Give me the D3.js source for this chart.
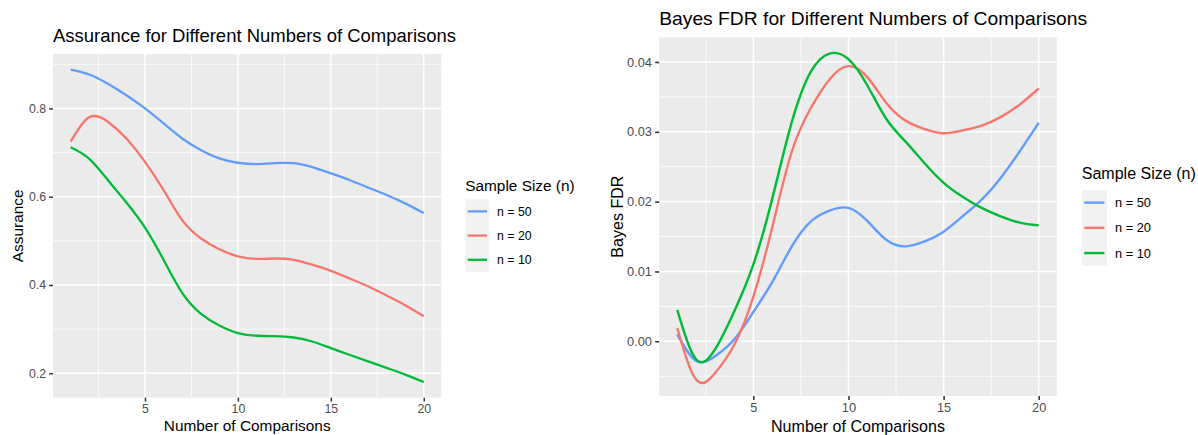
<!DOCTYPE html>
<html>
<head>
<meta charset="utf-8">
<script src="https://cdn.jsdelivr.net/npm/d3@7"></script>
<style>
  html, body { margin: 0; padding: 0; background: #ffffff; }
  svg { display: block; }
  text { font-family: "Liberation Sans", Arial, Helvetica, sans-serif; }
</style>
</head>
<body>
<svg id="chart" width="1198" height="435"></svg>
<script>
// Number of comparisons (x axis, shared by both panels)
const comparisons = [1, 2, 3, 4, 5, 6, 7, 8, 9, 10, 11, 12, 13, 14, 15, 16, 17, 18, 19, 20];

// Series labels and colours (legend order)
const seriesLabels = ["n = 50", "n = 20", "n = 10"];
const seriesColors = ["#619CFF", "#F8766D", "#00BA38"];

// Assurance by sample size
const assuranceN50 = [0.888, 0.877, 0.856, 0.830, 0.800, 0.766, 0.732, 0.706, 0.687, 0.677,
                      0.674, 0.676, 0.676, 0.667, 0.653, 0.638, 0.621, 0.604, 0.585, 0.563];
const assuranceN20 = [0.725, 0.780, 0.770, 0.732, 0.679, 0.615, 0.547, 0.506, 0.481, 0.465,
                      0.459, 0.460, 0.457, 0.446, 0.432, 0.415, 0.397, 0.376, 0.354, 0.329];
const assuranceN10 = [0.712, 0.686, 0.638, 0.587, 0.530, 0.457, 0.382, 0.335, 0.308, 0.291,
                      0.285, 0.284, 0.281, 0.272, 0.257, 0.242, 0.227, 0.212, 0.197, 0.180];

// Bayes FDR by sample size
const fdrN50 = [0.0010, -0.0028, -0.0021, 0.0003, 0.0042, 0.0085, 0.0135, 0.0171, 0.0187, 0.0191,
                0.0172, 0.0145, 0.0136, 0.0143, 0.0157, 0.0179, 0.0203, 0.0234, 0.0272, 0.0313];
const fdrN20 = [0.0019, -0.0055, -0.0045, -0.0005, 0.0064, 0.0164, 0.0270, 0.0333, 0.0375, 0.0394,
                0.0378, 0.0341, 0.0316, 0.0304, 0.0298, 0.0302, 0.0309, 0.0321, 0.0339, 0.0362];
const fdrN10 = [0.0045, -0.0026, -0.0011, 0.0043, 0.0110, 0.0205, 0.0312, 0.0385, 0.0412, 0.0404,
                0.0366, 0.0318, 0.0286, 0.0255, 0.0227, 0.0207, 0.0191, 0.0179, 0.0170, 0.0166];

// Tick labels
const xTicks = [5, 10, 15, 20];
const assuranceTicks = [0.2, 0.4, 0.6, 0.8];
const fdrTicks = [0.00, 0.01, 0.02, 0.03, 0.04];

const svg = d3.select("#chart");

function expand(ext, mult) {
  const pad = (ext[1] - ext[0]) * mult;
  return [ext[0] - pad, ext[1] + pad];
}

function minorBreaks(major, domain) {
  const step = major[1] - major[0];
  const out = [];
  for (let i = -1; i < major.length; i++) {
    const v = major[0] + step * i + step / 2;
    if (v > domain[0] && v < domain[1]) out.push(v);
  }
  return out;
}

function drawPanel(cfg) {
  const s = cfg.scale;                      // px per pt
  const g = svg.append("g");
  const xDomain = expand(d3.extent(comparisons), 0.05);
  const allVals = cfg.series.flat();
  const yDomain = expand(d3.extent(allVals), 0.05);

  const x = d3.scaleLinear().domain(xDomain).range([cfg.left, cfg.right]);
  const y = d3.scaleLinear().domain(yDomain).range([cfg.bottom, cfg.top]);

  // panel background
  g.append("rect")
    .attr("x", cfg.left).attr("y", cfg.top)
    .attr("width", cfg.right - cfg.left).attr("height", cfg.bottom - cfg.top)
    .attr("fill", "#EBEBEB");

  // minor grid
  const gridMinor = g.append("g").attr("stroke", "#ffffff").attr("stroke-width", 0.53 * s);
  minorBreaks(xTicks, xDomain).forEach(v => {
    gridMinor.append("line").attr("x1", x(v)).attr("x2", x(v)).attr("y1", cfg.top).attr("y2", cfg.bottom);
  });
  minorBreaks(cfg.yTicks, yDomain).forEach(v => {
    gridMinor.append("line").attr("y1", y(v)).attr("y2", y(v)).attr("x1", cfg.left).attr("x2", cfg.right);
  });

  // major grid
  const gridMajor = g.append("g").attr("stroke", "#ffffff").attr("stroke-width", 1.07 * s);
  xTicks.forEach(v => {
    gridMajor.append("line").attr("x1", x(v)).attr("x2", x(v)).attr("y1", cfg.top).attr("y2", cfg.bottom);
  });
  cfg.yTicks.forEach(v => {
    gridMajor.append("line").attr("y1", y(v)).attr("y2", y(v)).attr("x1", cfg.left).attr("x2", cfg.right);
  });

  // smoothed lines
  const line = d3.line()
    .x((d, i) => x(comparisons[i]))
    .y(d => y(d))
    .curve(d3.curveNatural);
  const clipId = "clip-" + cfg.id;
  g.append("clipPath").attr("id", clipId).append("rect")
    .attr("x", cfg.left).attr("y", cfg.top)
    .attr("width", cfg.right - cfg.left).attr("height", cfg.bottom - cfg.top);
  const lines = g.append("g").attr("clip-path", `url(#${clipId})`);
  cfg.series.forEach((vals, k) => {
    lines.append("path")
      .datum(vals)
      .attr("d", line)
      .attr("fill", "none")
      .attr("stroke", seriesColors[k])
      .attr("stroke-width", cfg.lineWidth)
      .attr("stroke-linejoin", "round")
      .attr("stroke-linecap", "butt");
  });

  // axes
  const tickLen = 2.75 * s;
  const tickPad = 2.2 * s;
  const tickFont = 8.8 * s;

  const xAxis = d3.axisBottom(x).tickValues(xTicks).tickFormat(d3.format("d"))
    .tickSizeInner(tickLen).tickSizeOuter(0).tickPadding(tickPad);
  const gx = g.append("g").attr("transform", `translate(0,${cfg.bottom})`).call(xAxis);
  gx.select(".domain").remove();
  gx.selectAll(".tick line").attr("stroke", "#333333").attr("stroke-width", 1.07 * s);
  gx.selectAll(".tick text")
    .attr("fill", "#4D4D4D").attr("font-size", tickFont)
    .attr("font-family", "'Liberation Sans', Arial, sans-serif")
    .attr("dy", "0.71em");

  const yAxis = d3.axisLeft(y).tickValues(cfg.yTicks).tickFormat(cfg.yFormat)
    .tickSizeInner(tickLen).tickSizeOuter(0).tickPadding(tickPad);
  const gy = g.append("g").attr("transform", `translate(${cfg.left},0)`).call(yAxis);
  gy.select(".domain").remove();
  gy.selectAll(".tick line").attr("stroke", "#333333").attr("stroke-width", 1.07 * s);
  gy.selectAll(".tick text")
    .attr("fill", "#4D4D4D").attr("font-size", tickFont)
    .attr("font-family", "'Liberation Sans', Arial, sans-serif");

  // titles
  g.append("text")
    .attr("x", cfg.left).attr("y", cfg.top - 12.3)
    .attr("font-size", 13.2 * s).attr("fill", "#000000")
    .text(cfg.title);

  g.append("text")
    .attr("x", (cfg.left + cfg.right) / 2).attr("y", cfg.xTitleY)
    .attr("text-anchor", "middle")
    .attr("font-size", 11 * s).attr("fill", "#000000")
    .text("Number of Comparisons");

  g.append("text")
    .attr("transform", `translate(${cfg.yTitleX},${(cfg.top + cfg.bottom) / 2}) rotate(-90)`)
    .attr("text-anchor", "middle")
    .attr("font-size", 11 * s).attr("fill", "#000000")
    .text(cfg.yTitle);

  // legend
  const key = 17.28 * s;
  const lg = g.append("g");
  lg.append("text")
    .attr("x", cfg.legendX).attr("y", cfg.legendTitleY)
    .attr("font-size", 11 * s).attr("fill", "#000000")
    .text("Sample Size (n)");
  seriesLabels.forEach((lab, k) => {
    const ky = cfg.legendKeyY + k * key;
    lg.append("rect")
      .attr("x", cfg.legendX).attr("y", ky)
      .attr("width", key).attr("height", key)
      .attr("fill", "#F2F2F2");
    lg.append("line")
      .attr("x1", cfg.legendX + key * 0.1).attr("x2", cfg.legendX + key * 0.9)
      .attr("y1", ky + key / 2).attr("y2", ky + key / 2)
      .attr("stroke", seriesColors[k]).attr("stroke-width", cfg.lineWidth);
    lg.append("text")
      .attr("x", cfg.legendX + key + 5.5 * s).attr("y", ky + key / 2)
      .attr("dy", "0.35em")
      .attr("font-size", 8.8 * s).attr("fill", "#000000")
      .text(lab);
  });
}

drawPanel({
  id: "assurance",
  scale: 1.4,
  left: 53.0, right: 441.4, top: 54.0, bottom: 397.7,
  series: [assuranceN50, assuranceN20, assuranceN10],
  yTicks: assuranceTicks,
  yFormat: d3.format(".1f"),
  title: "Assurance for Different Numbers of Comparisons",
  yTitle: "Assurance",
  yTitleX: 23,
  xTitleY: 431,
  legendX: 465.2, legendTitleY: 191, legendKeyY: 199.3,
  lineWidth: 2.3
});

drawPanel({
  id: "fdr",
  scale: 1.46,
  left: 659.2, right: 1056.8, top: 37.3, bottom: 396.0,
  series: [fdrN50, fdrN20, fdrN10],
  yTicks: fdrTicks,
  yFormat: d3.format(".2f"),
  title: "Bayes FDR for Different Numbers of Comparisons",
  yTitle: "Bayes FDR",
  yTitleX: 622.7,
  xTitleY: 431.5,
  legendX: 1081.7, legendTitleY: 179, legendKeyY: 190,
  lineWidth: 2.4
});
</script>
</body>
</html>
